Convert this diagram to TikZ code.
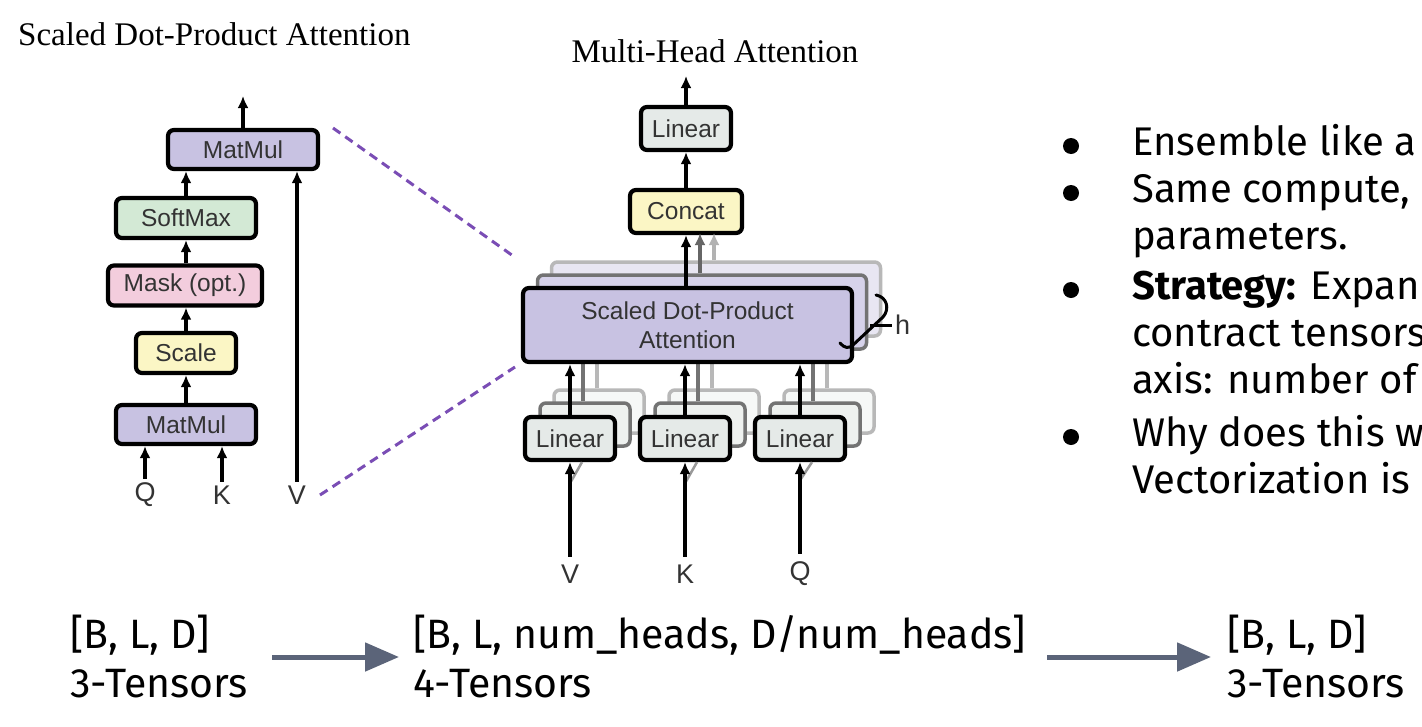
\documentclass[tikz,border=0pt]{standalone}
\usepackage{fontspec}
\usetikzlibrary{arrows.meta}
\newfontfamily\serifT{Liberation Serif}
\newfontfamily\helv{Liberation Sans}
\newfontfamily\fira{Fira Sans}
\definecolor{lav}{HTML}{C8C2E2}
\definecolor{lavA}{HTML}{D6D2EA}
\definecolor{lavB}{HTML}{E8E6F2}
\definecolor{softg}{HTML}{D3E9D5}
\definecolor{maskp}{HTML}{F3CDDD}
\definecolor{scaley}{HTML}{FBF6C5}
\definecolor{ling}{HTML}{E5EAE8}
\definecolor{lingA}{HTML}{EEF1EF}
\definecolor{lingB}{HTML}{F6F8F7}
\definecolor{txtgray}{HTML}{333333}
\definecolor{dashp}{HTML}{7A4DB5}
\definecolor{slate}{HTML}{5B6479}
\begin{document}
\begin{tikzpicture}[x=1pt,y=-1pt,
  box/.style={draw=black, line width=4.2pt, rounded corners=6pt, inner sep=0pt,
              font=\helv\fontsize{24.5}{29}\selectfont, text=txtgray, align=center},
  ghostA/.style={draw=black!55, line width=3.5pt, rounded corners=6pt, inner sep=0pt},
  ghostB/.style={draw=black!28, line width=3.5pt, rounded corners=6pt, inner sep=0pt},
  arr/.style={line width=3.8pt, -{Latex[length=12pt,width=11pt]}},
  lbl/.style={font=\helv\fontsize{27}{31}\selectfont, text=txtgray, inner sep=6pt},
  dashline/.style={draw=dashp, line width=3pt, dash pattern=on 9pt off 6pt},
  bul/.style={font=\fira\fontsize{40}{47}\selectfont, anchor=base west, inner sep=0pt},
  bot/.style={font=\fira\fontsize{41}{49}\selectfont, anchor=base west, inner sep=0pt},
  bigarr/.style={draw=slate, line width=5pt, -{Triangle[length=34pt,width=28pt]}}
]
\useasboundingbox (0,0) rectangle (1422,726);
\fill[white] (0,0) rectangle (1422,726);
\clip (0,0) rectangle (1422,726);

% ---------------- Left: Scaled Dot-Product Attention ----------------
\node[font=\serifT\fontsize{33}{37}\selectfont, anchor=base west, inner sep=0pt] (ltitle) at (18,45) {Scaled Dot-Product Attention};

\node[box, fill=lav,    minimum width=150pt, minimum height=39pt] (mmA)  at (243,149.5) {MatMul};
\node[box, fill=softg,  minimum width=140pt, minimum height=40pt] (soft) at (186,218) {SoftMax};
\node[box, fill=maskp,  minimum width=154pt, minimum height=40pt] (mask) at (185,285.5) {Mask (opt.)};
\node[box, fill=scaley, minimum width=100pt, minimum height=40pt] (scal) at (186,353) {Scale};
\node[box, fill=lav,    minimum width=140pt, minimum height=39pt] (mmB)  at (186,424.5) {MatMul};

\node[lbl] (q) at (145,495) {Q};
\node[lbl] (k) at (222,495) {K};
\node[lbl] (v) at (297,495) {V};
\coordinate (outL) at (243,96);

\draw[arr] (mmA.north) -- (outL);
\draw[arr] (soft.north) -- (soft.north |- mmA.south);
\draw[arr] (mask.north -| soft.north) -- (soft.south);
\draw[arr] (scal.north) -- (mask.south -| soft.south);
\draw[arr] (mmB.north) -- (scal.south);
\draw[arr] ([yshift=-2pt]q.north) -- (q.north |- mmB.south);
\draw[arr] ([yshift=-2pt]k.north) -- (k.north |- mmB.south);
\draw[arr] ([yshift=-2pt]v.north) -- (v.north |- mmA.south);

% ---------------- Middle: Multi-Head Attention ----------------
\node[font=\serifT\fontsize{33}{37}\selectfont, anchor=base, inner sep=0pt] (mtitle) at (715,62) {Multi-Head Attention};

% ghost copies of the attention block
\node[ghostB, fill=lavB, minimum width=329pt, minimum height=74pt] (sdpaB) at (716,299) {};
\node[ghostA, fill=lavA, minimum width=329pt, minimum height=74pt] (sdpaA) at (702,312) {};

% ghost copies of the Linear blocks
\foreach \n/\x in {V/570,K/685,Q/800}{
  \node[ghostB, fill=lingB, minimum width=90pt, minimum height=43pt] (lin\n B) at (\x+29,411.5) {};
}
\foreach \n/\x in {V/570,K/685,Q/800}{
  \node[ghostA, fill=lingA, minimum width=90pt, minimum height=43pt] (lin\n A) at (\x+15,424.5) {};
}
% faded connectors between ghosts
\foreach \n in {V,K,Q}{
  \draw[line width=3.5pt, draw=black!28] ([xshift=-2pt]lin\n B.north) -- ++(0,-30);
  \draw[line width=3.5pt, draw=black!55] ([xshift=-2pt]lin\n A.north) -- ++(0,-45);
}

\node[box, fill=lav, minimum width=329pt, minimum height=74pt] (sdpa) at (687.5,325) {Scaled Dot-Product\\Attention};

\node[box, fill=ling, minimum width=90pt, minimum height=43pt] (linV) at (570,438.5) {Linear};
\node[box, fill=ling, minimum width=90pt, minimum height=43pt] (linK) at (685,438.5) {Linear};
\node[box, fill=ling, minimum width=90pt, minimum height=43pt] (linQ) at (800,438.5) {Linear};

\node[box, fill=scaley, minimum width=112pt, minimum height=43pt] (concat) at (686,211.5) {Concat};
\node[box, fill=ling,   minimum width=90pt,  minimum height=43pt] (linO)   at (686,128.5) {Linear};
\coordinate (outM) at (686,76);

\node[lbl, inner sep=8pt] (inV) at (570,574) {V};
\node[lbl, inner sep=8pt] (inK) at (685,574) {K};
\node[lbl, inner sep=8pt] (inQ) at (800,574) {Q};

% faint slanted shadows of the input arrows
\foreach \n in {V,K,Q}{
  \draw[line width=2.5pt, draw=black!40] ([xshift=1pt,yshift=75pt]in\n.north) -- ([xshift=12pt]lin\n.south);
}

\draw[arr] (inV.north) -- (linV.south);
\draw[arr] (inK.north) -- (linK.south);
\draw[arr] (inQ.north) -- (linQ.south);
\draw[arr] (linV.north) -- (linV.north |- sdpa.south);
\draw[arr] (linK.north) -- (linK.north |- sdpa.south);
\draw[arr] (linQ.north) -- (linQ.north |- sdpa.south);

\draw[arr, draw=black!30, fill=black!30] (sdpaB.north -| {714,0}) -- (714,233);
\draw[arr, draw=black!60, fill=black!60] (sdpaA.north -| {700,0}) -- (700,233);
\draw[arr] (sdpa.north -| concat.south) -- (concat.south);
\draw[arr] (concat.north) -- (linO.south);
\draw[arr] (linO.north) -- (outM);

% h brace
\draw[line width=3pt, line cap=round] (876,295) .. controls (887,297) and (890,309) .. (883,317)
   -- (853,345) .. controls (849,349) and (844,348) .. (840,343);
\draw[line width=3pt] (870,325) -- (892,325);
\node[lbl, anchor=west, inner sep=2pt] (hlab) at (893,325) {h};

% dashed zoom lines
\coordinate (dA1) at (333,128);
\coordinate (dA2) at (516,258);
\coordinate (dB1) at (320,495);
\coordinate (dB2) at (515,367);
\draw[dashline] (dA1) -- (dA2);
\draw[dashline] (dB1) -- (dB2);

% ---------------- Right: bullets ----------------
\foreach \y in {146,193,290,437}{
  \fill (1071,\y) circle (8pt);
}
\node[bul] (b1) at (1132,155) {Ensemble like a};
\node[bul] (b2) at (1132,202) {Same compute,};
\node[bul] (b3) at (1132,249) {parameters.};
\node[bul] (b4) at (1132,299) {\bfseries Strategy:\mdseries{} Expand};
\node[bul] (b5) at (1132,346) {contract tensors};
\node[bul] (b6) at (1132,393) {axis: number of};
\node[bul] (b7) at (1132,446) {Why does this w};
\node[bul] (b8) at (1132,493) {Vectorization is};

% ---------------- Bottom: tensor shapes ----------------
\node[bot] (s1a) at (70,648) {[B, L, D]};
\node[bot] (s1b) at (70,697) {3-Tensors};
\node[bot] (s2a) at (413,648) {[B, L, num\_heads, D/num\_heads]};
\node[bot] (s2b) at (413,697) {4-Tensors};
\node[bot] (s3a) at (1227,648) {[B, L, D]};
\node[bot] (s3b) at (1227,697) {3-Tensors};
\coordinate (a1s) at (272,657);
\coordinate (a1e) at (399,657);
\coordinate (a2s) at (1047,657);
\coordinate (a2e) at (1211,657);
\draw[bigarr] (a1s) -- (a1e);
\draw[bigarr] (a2s) -- (a2e);
\end{tikzpicture}
\end{document}
